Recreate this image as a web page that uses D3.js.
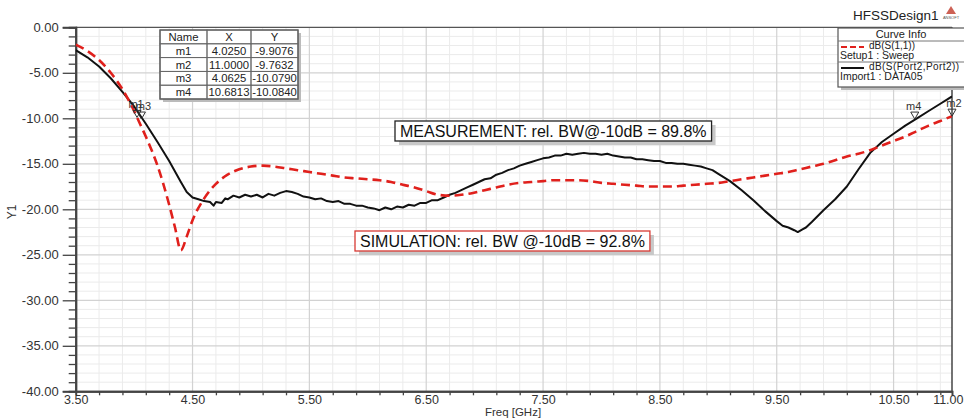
<!DOCTYPE html>
<html><head><meta charset="utf-8">
<script src="https://cdn.jsdelivr.net/npm/d3@7"></script>
<style>
html,body{margin:0;padding:0;background:#fff;}
svg{display:block;font-family:"Liberation Sans",Arial,sans-serif;}
</style></head>
<body><svg id="chart" width="964" height="418"></svg>
<script>
// ---- data ----
const xTickLabels = ["3.50","4.50","5.50","6.50","7.50","8.50","9.50","10.50","11.00"];
const yTickLabels = ["0.00","-5.00","-10.00","-15.00","-20.00","-25.00","-30.00","-35.00","-40.00"];

const simFreq = [3.5,3.6,3.7,3.8,3.9,4.0,4.05,4.1,4.2,4.3,4.35,4.4,4.45,4.5,4.6,4.7,4.8,4.9,5.0,5.1,5.2,5.3,5.4,5.5,5.6,5.7,5.8,5.9,6.0,6.1,6.2,6.3,6.4,6.5,6.6,6.7,6.8,6.9,7.0,7.1,7.2,7.3,7.4,7.5,7.6,7.7,7.8,7.9,8.0,8.1,8.2,8.3,8.4,8.5,8.6,8.7,8.8,8.9,9.0,9.1,9.2,9.3,9.4,9.5,9.6,9.7,9.8,9.9,10.0,10.1,10.2,10.3,10.4,10.5,10.6,10.7,10.8,10.9,11.0];
const simDb = [-1.9,-2.6,-3.6,-5.0,-6.8,-9.2,-10.6,-12.0,-15.2,-19.5,-22.0,-24.5,-23.0,-21.2,-18.8,-17.2,-16.2,-15.6,-15.3,-15.2,-15.3,-15.5,-15.7,-15.9,-16.1,-16.3,-16.5,-16.6,-16.7,-16.8,-17.0,-17.3,-17.6,-18.0,-18.4,-18.5,-18.4,-18.2,-17.9,-17.6,-17.3,-17.1,-17.0,-16.9,-16.8,-16.8,-16.8,-16.9,-17.1,-17.2,-17.3,-17.4,-17.5,-17.5,-17.5,-17.4,-17.3,-17.2,-17.1,-16.9,-16.7,-16.5,-16.3,-16.1,-15.9,-15.6,-15.3,-15.0,-14.6,-14.2,-13.9,-13.5,-13.0,-12.5,-12.0,-11.4,-10.8,-10.3,-9.76];

const measFreq = [3.5,3.6,3.7,3.8,3.9,4.0,4.1,4.2,4.3,4.4,4.45,4.5,4.55,4.6,4.65,4.68,4.7,4.75,4.78,4.8,4.85,4.9,4.95,5.0,5.05,5.1,5.15,5.2,5.25,5.3,5.35,5.4,5.45,5.5,5.55,5.6,5.65,5.7,5.75,5.8,5.85,5.9,5.95,6.0,6.05,6.1,6.15,6.2,6.25,6.3,6.35,6.4,6.45,6.5,6.55,6.6,6.65,6.7,6.75,6.8,6.85,6.9,6.95,7.0,7.05,7.1,7.15,7.2,7.25,7.3,7.35,7.4,7.45,7.5,7.55,7.6,7.65,7.7,7.75,7.8,7.85,7.9,7.95,8.0,8.05,8.1,8.15,8.2,8.25,8.3,8.35,8.4,8.45,8.5,8.55,8.6,8.65,8.7,8.75,8.8,8.85,8.9,8.95,9.0,9.1,9.2,9.3,9.4,9.5,9.55,9.6,9.65,9.68,9.72,9.75,9.8,9.9,10.0,10.1,10.2,10.3,10.4,10.5,10.6,10.7,10.8,10.9,11.0];
const measDb = [-2.5,-3.3,-4.3,-5.6,-7.1,-8.7,-10.6,-12.6,-14.7,-17.0,-18.1,-18.7,-18.9,-19.1,-19.2,-19.6,-19.2,-19.3,-18.8,-18.9,-18.5,-18.7,-18.4,-18.6,-18.4,-18.7,-18.3,-18.5,-18.2,-18.0,-18.1,-18.3,-18.6,-18.7,-18.9,-18.8,-19.1,-19.2,-19.1,-19.4,-19.4,-19.6,-19.6,-19.8,-19.9,-20.1,-19.8,-20.0,-19.7,-19.8,-19.5,-19.6,-19.3,-19.3,-19.0,-19.0,-18.7,-18.4,-18.2,-17.9,-17.6,-17.3,-17.0,-16.7,-16.6,-16.2,-16.0,-15.7,-15.5,-15.2,-15.0,-14.8,-14.6,-14.4,-14.3,-14.1,-14.1,-13.9,-14.0,-13.9,-13.8,-13.9,-13.9,-14.0,-13.9,-14.1,-14.2,-14.3,-14.3,-14.5,-14.5,-14.6,-14.7,-14.7,-14.9,-14.9,-15.0,-15.0,-15.1,-15.2,-15.3,-15.5,-15.7,-16.1,-16.9,-17.9,-19.0,-20.2,-21.3,-21.8,-22.0,-22.3,-22.5,-22.2,-22.0,-21.4,-20.1,-18.9,-17.5,-15.6,-13.8,-12.6,-11.7,-10.8,-10.0,-9.2,-8.4,-7.6];

const markerNames = ["m1","m2","m3","m4"];
const markerX = [4.0250, 11.0000, 4.0625, 10.6813];
const markerY = [-9.9076, -9.7632, -10.0790, -10.0840];
const markerXText = ["4.0250","11.0000","4.0625","10.6813"];
const markerYText = ["-9.9076","-9.7632","-10.0790","-10.0840"];

const legendNames = ["dB(S(1,1))","dB(S(Port2,Port2))"];
const legendSources = ["Setup1 : Sweep","Import1 : DATA05"];
const annotations = ["MEASUREMENT: rel. BW@-10dB = 89.8%","SIMULATION: rel. BW @-10dB = 92.8%"];

// ---- chart ----
const svg = d3.select("#chart");
const L = 75.7, R = 952, T = 27.3, B = 391.3;
const x = d3.scaleLinear().domain([3.5, 11]).range([L, R]);
const y = d3.scaleLinear().domain([0, -40]).range([T, B]);

// grid
const minorX = d3.range(0, 38).map(i => 3.5 + i*0.2).filter(v => v < 10.999 && (Math.round((v-3.5)*10) % 10 !== 0));
const majorX = [4.5,5.5,6.5,7.5,8.5,9.5,10.5];
const minorY = d3.range(1, 40).map(i => -i).filter(v => v % 5 !== 0);
const majorY = [-5,-10,-15,-20,-25,-30,-35];
const g = svg.append("g");
g.selectAll(".mnx").data(minorX).join("line").attr("x1", d=>x(d)).attr("x2", d=>x(d)).attr("y1", T).attr("y2", B).attr("stroke", "#ebebeb").attr("stroke-width", 1);
g.selectAll(".mny").data(minorY).join("line").attr("x1", L).attr("x2", R).attr("y1", d=>y(d)).attr("y2", d=>y(d)).attr("stroke", "#ebebeb").attr("stroke-width", 1);
g.selectAll(".mjx").data(majorX).join("line").attr("x1", d=>x(d)).attr("x2", d=>x(d)).attr("y1", T).attr("y2", B).attr("stroke", "#d2d2d2").attr("stroke-width", 1.2);
g.selectAll(".mjy").data(majorY).join("line").attr("x1", L).attr("x2", R).attr("y1", d=>y(d)).attr("y2", d=>y(d)).attr("stroke", "#d2d2d2").attr("stroke-width", 1.2);

// frame
svg.append("line").attr("x1", L).attr("x2", R).attr("y1", T).attr("y2", T).attr("stroke", "#555").attr("stroke-width", 1.2);
svg.append("line").attr("x1", R).attr("x2", R).attr("y1", T).attr("y2", B).attr("stroke", "#444").attr("stroke-width", 1.5);

// axes
const yAxisMinor = d3.axisLeft(y).tickValues(minorY).tickSize(7).tickFormat("");
const yAxisMajor = d3.axisLeft(y).tickValues(d3.range(0, -41, -5)).tickSize(13).tickPadding(4).tickFormat((d,i) => yTickLabels[i]);
const ya1 = svg.append("g").attr("transform", `translate(${L},0)`).call(yAxisMinor);
const ya2 = svg.append("g").attr("transform", `translate(${L},0)`).call(yAxisMajor);
[ya1, ya2].forEach(a => { a.select(".domain").attr("stroke", "#444").attr("stroke-width", 2); a.selectAll(".tick line").attr("stroke", "#444").attr("stroke-width", 1.3); });
ya2.selectAll("text").attr("font-size", 13).attr("fill", "#333").attr("font-family", "Liberation Sans, Arial, sans-serif");

const xMajorVals = [3.5,4.5,5.5,6.5,7.5,8.5,9.5,10.5,11];
const xAxisMinor = d3.axisBottom(x).tickValues(minorX).tickSize(4).tickFormat("");
const xAxisMajor = d3.axisBottom(x).tickValues(xMajorVals).tickSize(0).tickPadding(4).tickFormat((d,i) => xTickLabels[i]);
const xa1 = svg.append("g").attr("transform", `translate(0,${B})`).call(xAxisMinor);
const xa2 = svg.append("g").attr("transform", `translate(0,${B})`).call(xAxisMajor);
[xa1, xa2].forEach(a => { a.select(".domain").attr("stroke", "#444").attr("stroke-width", 2); a.selectAll(".tick line").attr("stroke", "#444").attr("stroke-width", 1.3); });
xa2.selectAll("text").attr("font-size", 12.5).attr("fill", "#333").attr("font-family", "Liberation Sans, Arial, sans-serif");
// last label sits flush with the right edge, as in the reference
xa2.selectAll(".tick").filter(d => d === 11).select("text").attr("text-anchor", "end").attr("x", 963 - x(11));

svg.append("text").attr("transform", "translate(16,212) rotate(-90)").attr("text-anchor", "middle").attr("font-size", 12).attr("fill", "#333").text("Y1");
svg.append("text").attr("x", 513).attr("y", 416).attr("text-anchor", "middle").attr("font-size", 11.5).attr("fill", "#333").text("Freq [GHz]");

// clip
svg.append("clipPath").attr("id", "clip").append("rect").attr("x", L).attr("y", T).attr("width", R-L).attr("height", B-T);

const simData = simFreq.map((f,i) => [f, simDb[i]]);
const measData = measFreq.map((f,i) => [f, measDb[i]]);
const curves = svg.append("g").attr("clip-path", "url(#clip)");
curves.append("path").datum(measData).attr("d", d3.line().x(d => x(d[0])).y(d => y(d[1]))).attr("fill", "none").attr("stroke", "#111").attr("stroke-width", 2).attr("stroke-linejoin", "round");
curves.append("path").datum(simData).attr("d", d3.line().x(d => x(d[0])).y(d => y(d[1])).curve(d3.curveMonotoneX)).attr("fill", "none").attr("stroke", "#e0201c").attr("stroke-width", 2.6).attr("stroke-dasharray", "9,5");

// markers
const mk = svg.append("g");
markerNames.forEach((n,i) => {
  const px = x(markerX[i]), py = y(markerY[i]);
  mk.append("path").attr("d", `M${px-4},${py-7}L${px+4},${py-7}L${px},${py}Z`).attr("fill", "none").attr("stroke", "#333").attr("stroke-width", 1);
  mk.append("text").attr("x", px + (n==="m2" ? 2 : (n==="m3"? 2 : -1))).attr("y", py - 9).attr("text-anchor", "middle").attr("font-size", 11).attr("fill", "#333").text(n);
});

// marker table
const tbX = 160, tbY = 30, colW = [47, 44, 47], rowH = 13.8;
const tb = svg.append("g");
tb.append("rect").attr("x", tbX+3).attr("y", tbY+3).attr("width", d3.sum(colW)).attr("height", rowH*5).attr("fill", "#bbb");
tb.append("rect").attr("x", tbX).attr("y", tbY).attr("width", d3.sum(colW)).attr("height", rowH*5).attr("fill", "#fff").attr("stroke", "#555").attr("stroke-width", 1.3);
const headers = ["Name","X","Y"];
const rows = [headers].concat(markerNames.map((n,i) => [n, markerXText[i], markerYText[i]]));
rows.forEach((r, ri) => {
  let cx = tbX;
  r.forEach((c, ci) => {
    tb.append("rect").attr("x", cx).attr("y", tbY + ri*rowH).attr("width", colW[ci]).attr("height", rowH).attr("fill", "none").attr("stroke", "#666").attr("stroke-width", 0.9);
    tb.append("text").attr("x", cx + colW[ci]/2).attr("y", tbY + ri*rowH + 11).attr("text-anchor", "middle").attr("font-size", 11.3).attr("fill", "#222").text(c);
    cx += colW[ci];
  });
});

// annotation boxes
function annot(txt, bx, by, border) {
  const a = svg.append("g");
  const t = a.append("text").attr("x", bx + 5).attr("y", by + 15.5).attr("font-size", 16).attr("fill", "#111").text(txt);
  const w = t.node().getComputedTextLength() + 10;
  a.insert("rect", "text").attr("x", bx + 4).attr("y", by + 4).attr("width", w).attr("height", 20).attr("fill", "#c8c8c8");
  a.insert("rect", "text").attr("x", bx).attr("y", by).attr("width", w).attr("height", 20).attr("fill", "#fff").attr("stroke", border).attr("stroke-width", 1.3);
}
annot(annotations[0], 395, 121, "#222");
annot(annotations[1], 355, 231, "#d83a34");

// title + legend
svg.append("text").attr("x", 853).attr("y", 20).attr("font-size", 13.5).attr("fill", "#222").text("HFSSDesign1");
const logo = svg.append("g");
logo.append("path").attr("d", "M946,14 L951,6 L956,14 Z").attr("fill", "#c0392b").attr("opacity", 0.8);
logo.append("text").attr("x", 951).attr("y", 19).attr("text-anchor", "middle").attr("font-size", 4).attr("fill", "#555").text("ANSOFT");

const lg = svg.append("g");
const lgX = 838, lgY = 28, lgW = 128, lgH = 59;
lg.append("rect").attr("x", lgX+3).attr("y", lgY+3).attr("width", lgW).attr("height", lgH).attr("fill", "#bbb");
lg.append("rect").attr("x", lgX).attr("y", lgY).attr("width", lgW).attr("height", lgH).attr("fill", "#fff").attr("stroke", "#555").attr("stroke-width", 1.2);
lg.append("text").attr("x", 901).attr("y", 38).attr("text-anchor", "middle").attr("font-size", 11).attr("fill", "#222").text("Curve Info");
lg.append("line").attr("x1", lgX).attr("x2", lgX+lgW).attr("y1", 41).attr("y2", 41).attr("stroke", "#777");
lg.append("line").attr("x1", lgX).attr("x2", lgX+lgW).attr("y1", 62).attr("y2", 62).attr("stroke", "#777");
lg.append("line").attr("x1", 841).attr("x2", 864).attr("y1", 47).attr("y2", 47).attr("stroke", "#e0201c").attr("stroke-width", 2).attr("stroke-dasharray", "6,3");
lg.append("line").attr("x1", 841).attr("x2", 864).attr("y1", 68).attr("y2", 68).attr("stroke", "#111").attr("stroke-width", 2);
lg.append("text").attr("x", 869).attr("y", 49).attr("font-size", 10).attr("fill", "#222").attr("textLength", 46).text(legendNames[0]);
lg.append("text").attr("x", 840).attr("y", 59).attr("font-size", 10.5).attr("fill", "#222").text(legendSources[0]);
lg.append("text").attr("x", 869).attr("y", 70).attr("font-size", 10).attr("fill", "#222").attr("textLength", 90).text(legendNames[1]);
lg.append("text").attr("x", 840).attr("y", 80).attr("font-size", 10.5).attr("fill", "#222").text(legendSources[1]);
</script></body></html>
